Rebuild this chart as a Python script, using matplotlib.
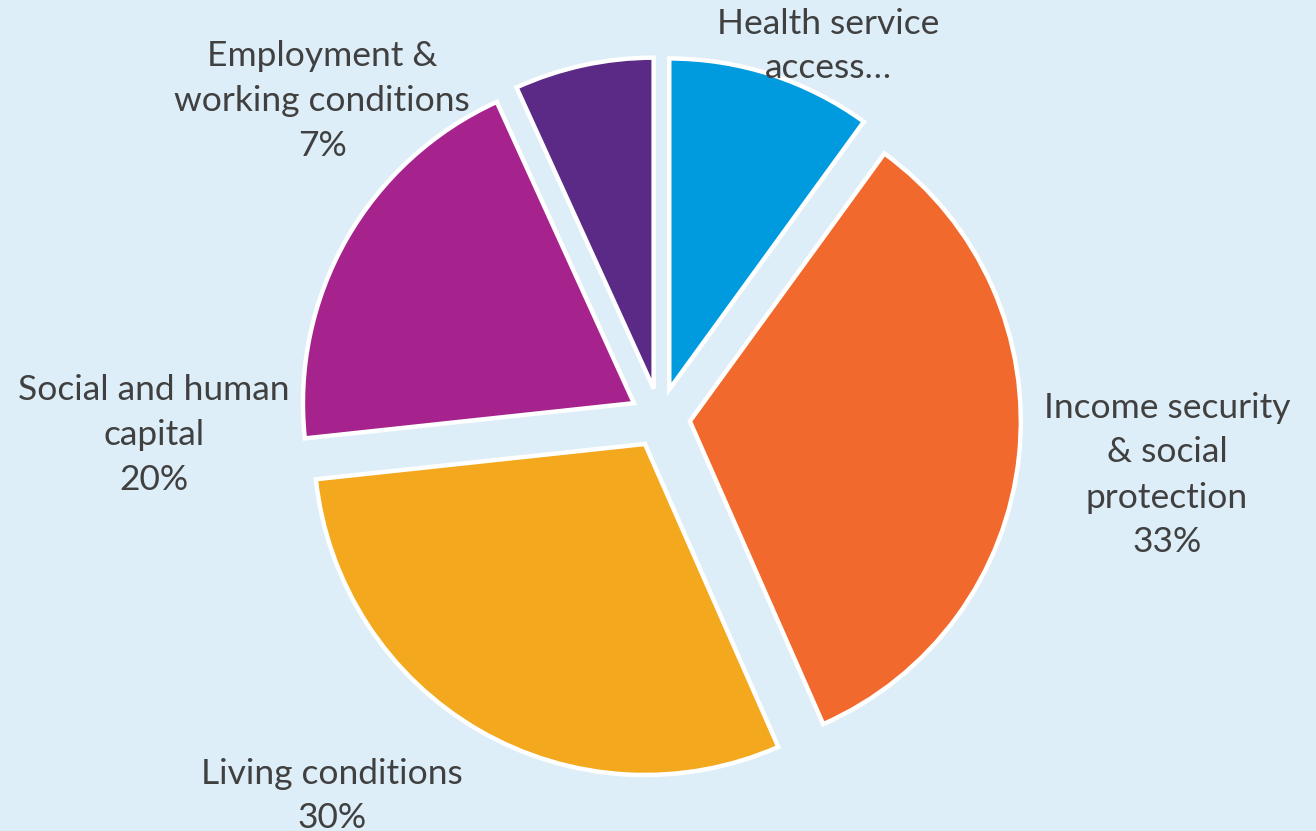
import matplotlib
matplotlib.use("Agg")
import matplotlib.pyplot as plt

plt.rcParams["font.family"] = ["Lato", "DejaVu Sans"]

# data
labels = ["Health service\naccess…", "Income security\n& social\nprotection",
          "Living conditions", "Social and human\ncapital", "Employment &\nworking conditions"]
shares = [10.0, 33.4, 29.9, 19.9, 6.8]
colors = ["#009ADE", "#F1692C", "#F3A81E", "#A6228C", "#5B2A86"]

BG = "#DDEEF8"
W, H = 1316, 831
fig = plt.figure(figsize=(W / 100, H / 100), dpi=100, facecolor=BG)
ax = fig.add_axes([0, 0, 1, 1])
ax.set_facecolor(BG)
ax.axis("off")

# pie geometry in pixel units (y measured from top of image)
cx, cy, r = 660, 418, 331
ax.pie(shares, colors=colors, startangle=90, counterclock=False,
       explode=[30] * len(shares), center=(cx, H - cy), radius=r,
       wedgeprops=dict(edgecolor="white", linewidth=3.2))
ax.set_xlim(0, W); ax.set_ylim(0, H)
ax.set_aspect("equal")

# label positions (text block centres, px from top-left)
pos = [(828, 46), (1167, 475), (332, 796), (154, 435), (322, 101)]
for lab, v, (x, y) in zip(labels, shares, pos):
    txt = lab if lab.endswith("…") else f"{lab}\n{v:.0f}%"
    ax.text(x, H - y, txt, ha="center", va="center", fontsize=25.5,
            color="#404040", linespacing=1.5)

fig.savefig("out.png", dpi=100, facecolor=BG)
